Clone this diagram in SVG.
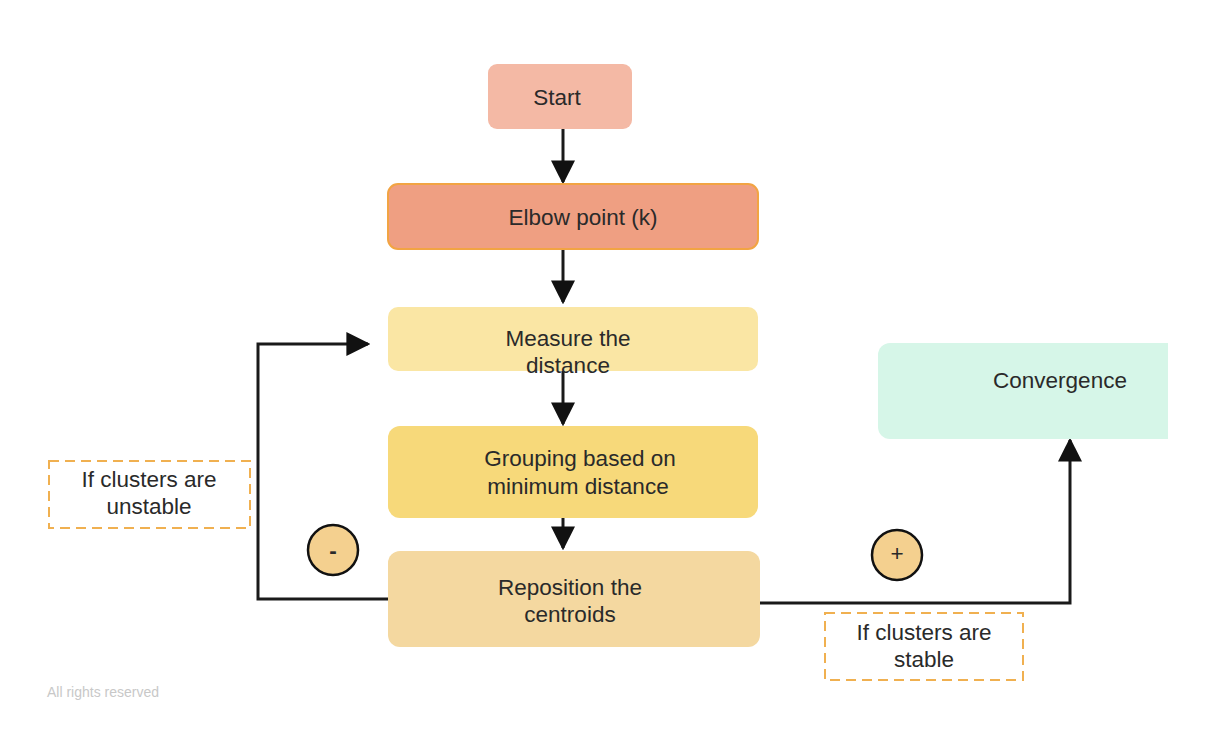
<svg xmlns="http://www.w3.org/2000/svg" width="1208" height="730" viewBox="0 0 1208 730">
<defs>
<style>
text{font-family:"Liberation Sans",Arial,sans-serif;fill:#2a2a2a;text-anchor:middle;font-size:22.5px}
.conn{fill:none;stroke:#1a1a1a;stroke-width:3}
.note{fill:#fff;stroke:#f0b050;stroke-width:2;stroke-dasharray:10 6}
.sign{fill:#f4d08f;stroke:#111;stroke-width:2.5}
</style>
<marker id="ahb" viewBox="0 0 10 10" refX="9" refY="5" markerWidth="8" markerHeight="8" orient="auto">
<path d="M0,0 L10,5 L0,10 Z" fill="#111"/>
</marker>
<clipPath id="edge"><rect x="0" y="0" width="1168" height="730"/></clipPath>
</defs>
<rect width="1208" height="730" fill="#fff"/>
<g id="connectors">
<path class="conn" d="M563,129 V182" marker-end="url(#ahb)"/>
<path class="conn" d="M563,249 V302" marker-end="url(#ahb)"/>
<path class="conn" d="M563,360 V424" marker-end="url(#ahb)"/>
<path class="conn" d="M563,518 V548" marker-end="url(#ahb)"/>
<path class="conn" d="M388,599 H258 V344 H368" marker-end="url(#ahb)"/>
<path class="conn" d="M760,603 H1070 V440" marker-end="url(#ahb)"/>
</g>
<g id="start"><rect x="488" y="64" width="144" height="65" rx="9" fill="#f4b9a5"/><text x="557" y="105">Start</text></g>
<g id="elbow"><rect x="388" y="184" width="370" height="65" rx="10" fill="#ef9f82" stroke="#f2a443" stroke-width="2"/><text x="583" y="225">Elbow point (k)</text></g>
<g id="measure"><rect x="388" y="307" width="370" height="64" rx="10" fill="#fae6a4"/><text x="568" y="346">Measure the</text><text x="568" y="373">distance</text></g>
<g id="grouping"><rect x="388" y="426" width="370" height="92" rx="12" fill="#f7d97a"/><text x="580" y="466">Grouping based on</text><text x="578" y="494">minimum distance</text></g>
<g id="reposition"><rect x="388" y="551" width="372" height="96" rx="12" fill="#f4d8a0"/><text x="570" y="595">Reposition the</text><text x="570" y="622">centroids</text></g>
<g id="convergence"><rect x="878" y="343" width="310" height="96" rx="12" fill="#d6f6e8" clip-path="url(#edge)"/><text x="1060" y="388">Convergence</text></g>
<g id="note-unstable"><rect class="note" x="49" y="461" width="201" height="67"/><text x="149" y="487">If clusters are</text><text x="149" y="514">unstable</text></g>
<g id="note-stable"><rect class="note" x="825" y="613" width="198" height="67"/><text x="924" y="640">If clusters are</text><text x="924" y="667">stable</text></g>
<g id="minus"><circle class="sign" cx="333" cy="550" r="25"/><text x="333" y="558" style="font-weight:bold">-</text></g>
<g id="plus"><circle class="sign" cx="897" cy="555" r="25"/><text x="897" y="561" font-size="14">+</text></g>
<text x="47" y="697" style="text-anchor:start;font-size:14px;fill:#c8c8c8">All rights reserved</text>
</svg>
